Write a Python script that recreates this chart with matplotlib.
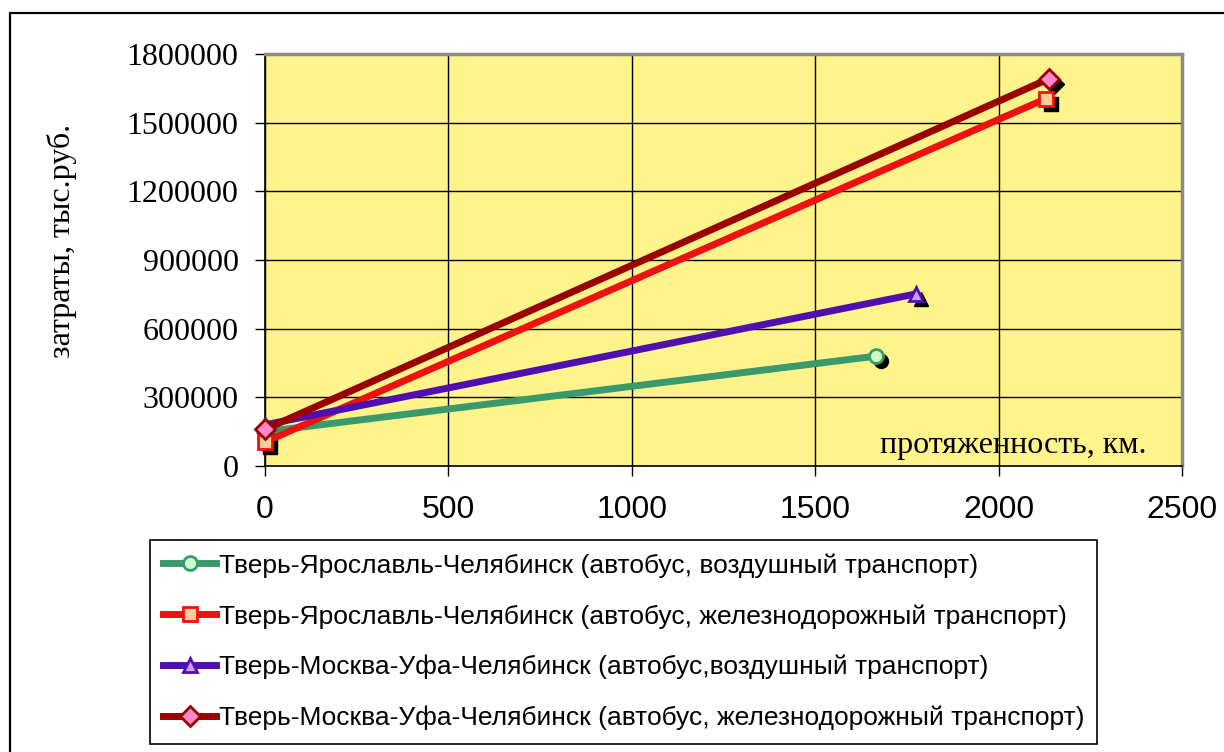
import matplotlib
matplotlib.use('Agg')
import matplotlib.pyplot as plt
import matplotlib.transforms as mtransforms
from matplotlib.lines import Line2D
from matplotlib.ticker import FuncFormatter

# данные
labels = [
    "Тверь-Ярославль-Челябинск (автобус, воздушный транспорт)",
    "Тверь-Ярославль-Челябинск (автобус, железнодорожный транспорт)",
    "Тверь-Москва-Уфа-Челябинск (автобус,воздушный транспорт)",
    "Тверь-Москва-Уфа-Челябинск (автобус, железнодорожный транспорт)",
]
x_green = [0, 1666]
y_green = [150000, 480000]
x_red = [0, 2129]
y_red = [105000, 1605000]
x_purple = [0, 1775]
y_purple = [180000, 752000]
x_dred = [0, 2137]
y_dred = [160000, 1692000]

series = [
    (x_green, y_green, '#3a9a6c', '#ccffcc', 'o'),
    (x_red, y_red, '#ee1111', '#ffcc99', 's'),
    (x_purple, y_purple, '#5010b0', '#cc99ff', '^'),
    (x_dred, y_dred, '#990000', '#ff88cc', 'D'),
]

serif = ['Liberation Serif', 'DejaVu Serif']
sans = ['Liberation Sans', 'DejaVu Sans']

fig = plt.figure(figsize=(12.24, 7.52), dpi=100)
ax = fig.add_axes([0.2165, 0.3803, 0.7492, 0.5479])
ax.set_facecolor('#fff38c')

# тень маркеров
shadow = mtransforms.offset_copy(ax.transData, fig=fig, x=3.6, y=-3.6, units='points')
for xs, ys, c, fc, m in series:
    ax.plot(xs, ys, linestyle='none', marker=m, markersize=10, color='black',
            transform=shadow, clip_on=False, zorder=2)

handles = []
for (xs, ys, c, fc, m), lab in zip(series, labels):
    h, = ax.plot(xs, ys, color=c, linewidth=5, marker=m, markersize=10,
                 markerfacecolor=fc, markeredgecolor=c, markeredgewidth=2,
                 clip_on=False, zorder=3, label=lab)
    handles.append(h)

ax.set_xlim(0, 2500)
ax.set_ylim(0, 1800000)
ax.set_xticks(range(0, 2501, 500))
ax.set_yticks(range(0, 1800001, 300000))
ax.yaxis.set_major_formatter(FuncFormatter(lambda v, p: '%d' % v))
ax.grid(True, color='black', linewidth=1)
ax.set_axisbelow(True)
ax.tick_params(direction='out', length=7, width=1, color='black')
ax.tick_params(axis='x', pad=14)
ax.tick_params(axis='y', pad=12)
for lab in ax.get_xticklabels():
    lab.set_family(sans)
    lab.set_fontsize(23)
for lab in ax.get_yticklabels():
    lab.set_family(serif)
    lab.set_fontsize(23)
for s in ['top', 'right']:
    ax.spines[s].set_color('#8a8a8a')
    ax.spines[s].set_linewidth(2.5)
for s in ['left', 'bottom']:
    ax.spines[s].set_color('black')
    ax.spines[s].set_linewidth(1.2)

ax.text(-0.221, 0.546, 'затраты, тыс.руб.', transform=ax.transAxes, rotation=90,
        ha='center', va='center', family=serif, fontsize=23)
ax.text(0.961, 0.015, 'протяженность, км.', transform=ax.transAxes, ha='right',
        va='bottom', family=serif, fontsize=23)

leg = fig.legend(handles=handles, loc='upper left',
                 bbox_to_anchor=(150 / 1224, 1 - 745 / 752, (1097 - 150) / 1224, (745 - 540) / 752),
                 mode='expand', prop={'family': sans, 'size': 19}, frameon=True,
                 fancybox=False, edgecolor='black', framealpha=1, handlelength=2.0,
                 handletextpad=0.1, labelspacing=1.0, borderaxespad=0,
                 borderpad=0.5)
leg.get_frame().set_linewidth(1.2)

# внешняя рамка
fig.add_artist(Line2D([10 / 1224, 10 / 1224, 1.0], [0.0, 1 - 13 / 752, 1 - 13 / 752],
                      transform=fig.transFigure, color='black', linewidth=1.6))

fig.savefig('out.png', dpi=100)
